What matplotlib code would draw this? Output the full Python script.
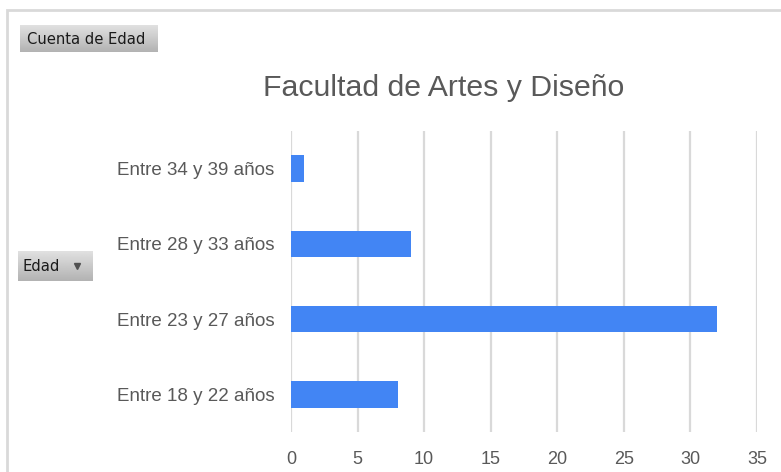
import matplotlib.pyplot as plt
import numpy as np
from matplotlib.patches import Rectangle

categories = ["Entre 18 y 22 años", "Entre 23 y 27 años", "Entre 28 y 33 años", "Entre 34 y 39 años"]
counts = [8, 32, 9, 1]
xticks = [0, 5, 10, 15, 20, 25, 30, 35]

W, H = 781, 472
plt.rcParams["font.family"] = ["Liberation Sans", "DejaVu Sans"]

fig = plt.figure(figsize=(W / 100, H / 100), dpi=100)
fig.patch.set_facecolor("white")

# outer chart border (partly cropped on the right/bottom)
fig.add_artist(Rectangle((7 / W, -0.1), 2.0, (H - 10) / H + 0.1, transform=fig.transFigure,
                         fill=False, edgecolor="#d9d9d9", linewidth=2))

ax = fig.add_axes([291 / W, (H - 432) / H, (757 - 291) / W, (432 - 131) / H])
y = np.arange(len(categories))
ax.barh(y, counts, height=0.35, color="#4285f4", zorder=3)
ax.set_xlim(0, 35)
ax.set_ylim(-0.5, 3.5)
ax.set_xticks(xticks)
ax.set_yticks(y, categories)
ax.grid(axis="x", color="#d9d9d9", linewidth=1.6, zorder=0)
for s in ax.spines.values():
    s.set_visible(False)
ax.tick_params(length=0, labelsize=13.5, colors="#595959")
ax.tick_params(axis="y", pad=12)
ax.tick_params(axis="x", pad=14, labelsize=13)

fig.text(444 / W, 1 - 88 / H, "Facultad de Artes y Diseño", ha="center", va="center",
         fontsize=21.8, color="#595959")


def button(x0, y0, x1, y1, label, arrow=False):
    bax = fig.add_axes([x0 / W, 1 - y1 / H, (x1 - x0) / W, (y1 - y0) / H])
    grad = np.linspace(0.70, 0.88, 50)[:, None]
    bax.imshow(grad, cmap="gray", vmin=0, vmax=1, aspect="auto", extent=(0, 1, 0, 1),
               origin="lower")
    bax.set_xlim(0, 1)
    bax.set_ylim(0, 1)
    bax.axis("off")
    bax.text(0.05 if not arrow else 0.06, 0.48, label, ha="left", va="center",
             fontsize=11.8, color="#1a1a1a", family=["DejaVu Sans"], fontstretch="condensed")
    if arrow:
        bax.plot([0.78], [0.5], marker="v", markersize=4, color="#505050")


button(20, 25, 158, 52, "Cuenta de Edad")
button(18, 251, 93, 281, "Edad", arrow=True)

fig.savefig("out.png", dpi=100)
